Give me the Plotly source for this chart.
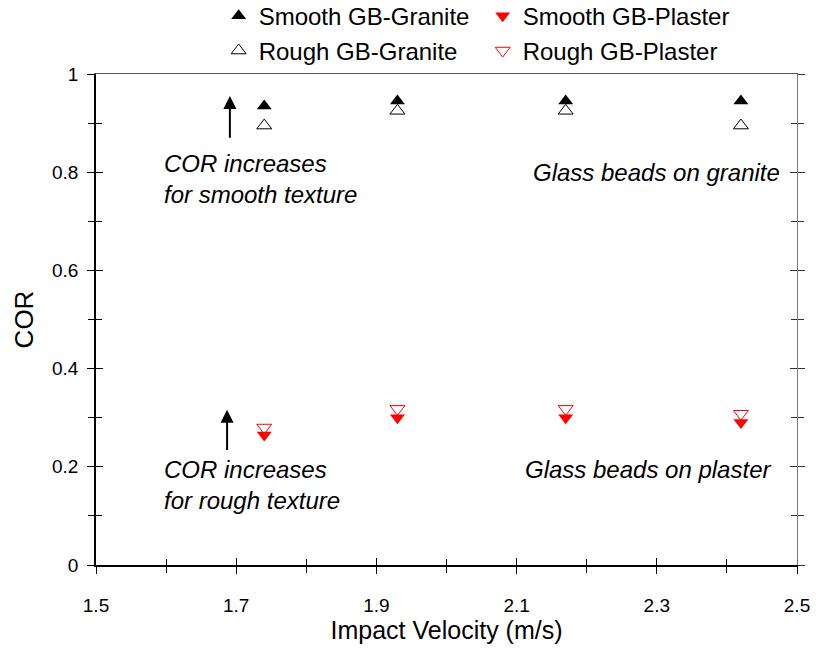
import plotly.graph_objects as go

velocity = [1.74, 1.93, 2.17, 2.42]
smooth_granite = [0.935, 0.945, 0.945, 0.945]
rough_granite = [0.895, 0.925, 0.925, 0.895]
smooth_plaster = [0.265, 0.300, 0.300, 0.290]
rough_plaster = [0.280, 0.318, 0.318, 0.308]

x_ticks = [1.5, 1.7, 1.9, 2.1, 2.3, 2.5]
y_ticks = [0, 0.2, 0.4, 0.6, 0.8, 1.0]
y_tick_labels = ["0", "0.2", "0.4", "0.6", "0.8", "1"]

FONT = "Liberation Sans, Arial, sans-serif"

fig = go.Figure()
fig.add_trace(go.Scatter(x=velocity, y=smooth_granite, mode="markers", name="Smooth GB-Granite",
                         marker=dict(symbol="triangle-up", size=13, color="black"), legend="legend"))
fig.add_trace(go.Scatter(x=velocity, y=smooth_plaster, mode="markers", name="Smooth GB-Plaster",
                         marker=dict(symbol="triangle-down", size=13, color="#ff0000"), legend="legend"))
fig.add_trace(go.Scatter(x=velocity, y=rough_granite, mode="markers", name="Rough GB-Granite",
                         marker=dict(symbol="triangle-up-open", size=13, color="black", line=dict(width=1)),
                         legend="legend2"))
fig.add_trace(go.Scatter(x=velocity, y=rough_plaster, mode="markers", name="Rough GB-Plaster",
                         marker=dict(symbol="triangle-down-open", size=13, color="#ff0000", line=dict(width=1)),
                         legend="legend2"))

tickfont = dict(family=FONT, size=19, color="black")
TL, TLM, TW = 7, 6, 1.4
fig.update_layout(
    width=825, height=662,
    margin=dict(l=96, r=28, t=74, b=97, autoexpand=False),
    paper_bgcolor="white", plot_bgcolor="white",
    font=dict(family=FONT, color="black"),
    showlegend=True,
    legend=dict(orientation="h", x=0.175, xanchor="left", y=1.118, yanchor="middle",
                font=dict(family=FONT, size=24), entrywidth=219, bgcolor="rgba(0,0,0,0)", tracegroupgap=0),
    legend2=dict(orientation="h", x=0.175, xanchor="left", y=1.047, yanchor="middle",
                 font=dict(family=FONT, size=24), entrywidth=219, bgcolor="rgba(0,0,0,0)", tracegroupgap=0),
    xaxis=dict(range=[1.5, 2.5], tickvals=x_ticks, ticktext=[str(v) for v in x_ticks],
               ticks="outside", ticklen=TL, tickwidth=TW, tickcolor="black",
               showline=True, linecolor="black", linewidth=1.5, showgrid=False, zeroline=False,
               tickfont=tickfont, ticklabelstandoff=15,
               minor=dict(ticks="outside", ticklen=TLM, tickwidth=TW, tickcolor="black",
                          tickvals=[1.6, 1.8, 2.0, 2.2, 2.4]),
               title=dict(text="Impact Velocity (m/s)", font=dict(family=FONT, size=25), standoff=6)),
    xaxis2=dict(range=[1.5, 2.5], overlaying="x", side="bottom", anchor="y", tickvals=x_ticks,
                ticks="inside", ticklen=TL, tickwidth=TW, tickcolor="black", showticklabels=False,
                showline=False, showgrid=False, zeroline=False,
                minor=dict(ticks="inside", ticklen=TLM, tickwidth=TW, tickcolor="black",
                           tickvals=[1.6, 1.8, 2.0, 2.2, 2.4])),
    xaxis3=dict(range=[1.5, 2.5], overlaying="x", side="top", anchor="y", ticks="",
                showticklabels=False, showline=True, linecolor="#555555", linewidth=1.2,
                showgrid=False, zeroline=False),
    yaxis=dict(range=[0, 1], tickvals=y_ticks, ticktext=y_tick_labels,
               ticks="outside", ticklen=TL, tickwidth=TW, tickcolor="black",
               showline=True, linecolor="black", linewidth=1.5, showgrid=False, zeroline=False,
               tickfont=tickfont, ticklabelstandoff=5,
               minor=dict(ticks="outside", ticklen=TLM, tickwidth=TW, tickcolor="black",
                          tickvals=[0.1, 0.3, 0.5, 0.7, 0.9]),
               title=dict(text="COR", font=dict(family=FONT, size=26), standoff=11)),
    yaxis2=dict(range=[0, 1], overlaying="y", side="left", anchor="x", tickvals=y_ticks,
                ticks="inside", ticklen=TL, tickwidth=TW, tickcolor="black", showticklabels=False,
                showline=False, showgrid=False, zeroline=False,
                minor=dict(ticks="inside", ticklen=TLM, tickwidth=TW, tickcolor="black",
                           tickvals=[0.1, 0.3, 0.5, 0.7, 0.9])),
    yaxis3=dict(range=[0, 1], overlaying="y", side="right", anchor="x", tickvals=y_ticks,
                ticks="outside", ticklen=TL, tickwidth=TW, tickcolor="#333333", showticklabels=False,
                showline=True, linecolor="#777777", linewidth=1.2, showgrid=False, zeroline=False,
                minor=dict(ticks="outside", ticklen=TLM, tickwidth=TW, tickcolor="#333333",
                           tickvals=[0.1, 0.3, 0.5, 0.7, 0.9])),
    yaxis4=dict(range=[0, 1], overlaying="y", side="right", anchor="x", tickvals=y_ticks,
                ticks="inside", ticklen=TL, tickwidth=TW, tickcolor="#333333", showticklabels=False,
                showline=False, showgrid=False, zeroline=False,
                minor=dict(ticks="inside", ticklen=TLM, tickwidth=TW, tickcolor="#333333",
                           tickvals=[0.1, 0.3, 0.5, 0.7, 0.9])),
)

# helper invisible traces so overlay axes are drawn
for xa, ya in [("x2", "y"), ("x3", "y"), ("x", "y2"), ("x", "y3"), ("x", "y4")]:
    fig.add_trace(go.Scatter(x=[None], y=[None], xaxis=xa, yaxis=ya, showlegend=False, hoverinfo="skip"))

annot_font = dict(family=FONT, size=24, color="black", style="italic")
fig.add_annotation(x=1.594, y=0.786, xref="x", yref="y", text="COR increases<br>for smooth texture",
                   showarrow=False, xanchor="left", yanchor="middle", align="left", font=annot_font)
fig.add_annotation(x=1.594, y=0.162, xref="x", yref="y", text="COR increases<br>for rough texture",
                   showarrow=False, xanchor="left", yanchor="middle", align="left", font=annot_font)
fig.add_annotation(x=2.479, y=0.800, xref="x", yref="y", text="Glass beads on granite",
                   showarrow=False, xanchor="right", yanchor="middle", font=annot_font)
fig.add_annotation(x=2.466, y=0.195, xref="x", yref="y", text="Glass beads on plaster",
                   showarrow=False, xanchor="right", yanchor="middle", font=annot_font)

# arrows
fig.add_annotation(x=1.691, y=0.955, ax=1.691, ay=0.867, xref="x", yref="y", axref="x", ayref="y",
                   text="", showarrow=True, arrowhead=2, arrowsize=1.3, arrowwidth=2, arrowcolor="black")
fig.add_annotation(x=1.687, y=0.316, ax=1.687, ay=0.231, xref="x", yref="y", axref="x", ayref="y",
                   text="", showarrow=True, arrowhead=2, arrowsize=1.3, arrowwidth=2, arrowcolor="black")

fig.write_html("out.html")
